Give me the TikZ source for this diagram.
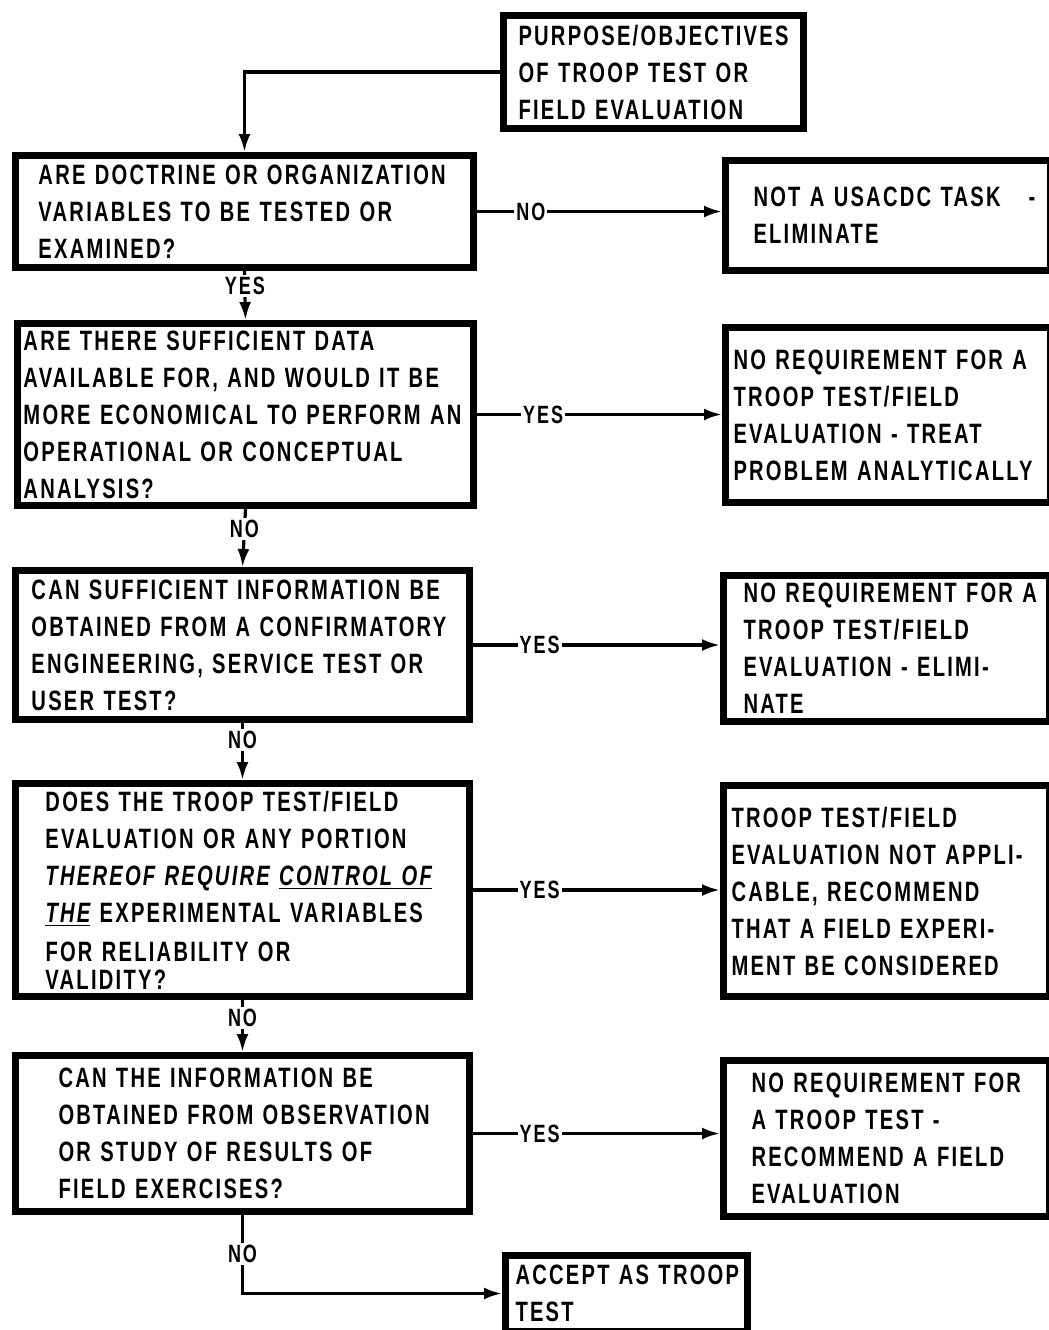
\documentclass[tikz,border=0pt]{standalone}
\usepackage{fontspec}
\usetikzlibrary{arrows.meta}
\setmainfont{Liberation Sans}[FakeStretch=0.72,LetterSpace=8]
\tikzset{
	blk/.style={draw, line width=3.5pt, rectangle, anchor=north west, inner xsep=3pt, inner ysep=2pt,
		align=left, font=\fontsize{14}{18.5}\selectfont\bfseries},
	lpad/.style={execute at begin node={\leftskip=#1\relax}},
	arr/.style={line width=1.6pt, -{Latex[length=9pt,width=6pt]}},
	lbl/.style={fill=white, inner sep=1pt, font=\fontsize{12.5}{13}\selectfont\bfseries}
}
\begin{document}
\begin{tikzpicture}[x=0.5pt, y=-0.5pt]
	\useasboundingbox (0,0) rectangle (1049,1330);
	\node[blk, lpad=4.5pt, minimum width=150pt, minimum height=56.5pt, text width=144pt] at (500,12) (purpose) {PURPOSE/OBJECTIVES\\OF TROOP TEST OR\\FIELD EVALUATION};
	\node[blk, lpad=8.5pt, minimum width=229pt, minimum height=56pt, text width=223pt] at (12,152) (q1) {ARE DOCTRINE OR ORGANIZATION\\VARIABLES TO BE TESTED OR\\EXAMINED?};
	\node[blk, lpad=11pt, minimum width=162.5pt, minimum height=55pt, text width=156.5pt] at (722,157) (r1) {NOT A USACDC TASK\quad -\\ELIMINATE};
	\node[blk, lpad=0pt, minimum width=228pt, minimum height=91pt, text width=222pt] at (14,320) (q2) {ARE THERE SUFFICIENT DATA\\AVAILABLE FOR, AND WOULD IT BE\\MORE ECONOMICAL TO PERFORM AN\\OPERATIONAL OR CONCEPTUAL\\ANALYSIS?};
	\node[blk, lpad=1pt, minimum width=162.5pt, minimum height=87.5pt, text width=156.5pt] at (722,324) (r2) {NO REQUIREMENT FOR A\\TROOP TEST/FIELD\\EVALUATION - TREAT\\PROBLEM ANALYTICALLY};
	\node[blk, lpad=5pt, minimum width=227pt, minimum height=74.5pt, text width=221pt] at (12,567) (q3) {CAN SUFFICIENT INFORMATION BE\\OBTAINED FROM A CONFIRMATORY\\ENGINEERING, SERVICE TEST OR\\USER TEST?};
	\node[blk, lpad=7pt, minimum width=163pt, minimum height=73pt, text width=157pt] at (720,572) (r3) {NO REQUIREMENT FOR A\\TROOP TEST/FIELD\\EVALUATION - ELIMI-\\NATE};
	\node[blk, lpad=12pt, minimum width=227pt, minimum height=106.5pt, text width=221pt] at (12,780) (q4) {DOES THE TROOP TEST/FIELD\\EVALUATION OR ANY PORTION\\{\itshape THEREOF REQUIRE \underline{CONTROL OF}}\\{\itshape\underline{THE}} EXPERIMENTAL VARIABLES\\[1pt]FOR RELIABILITY OR\\[-4.5pt]VALIDITY?};
	\node[blk, lpad=1pt, minimum width=163pt, minimum height=105.5pt, text width=157pt] at (720,782) (r4) {TROOP TEST/FIELD\\EVALUATION NOT APPLI-\\CABLE, RECOMMEND\\THAT A FIELD EXPERI-\\MENT BE CONSIDERED};
	\node[blk, lpad=18.5pt, minimum width=227pt, minimum height=78pt, text width=221pt] at (12,1052) (q5) {CAN THE INFORMATION BE\\OBTAINED FROM OBSERVATION\\OR STUDY OF RESULTS OF\\FIELD EXERCISES?};
	\node[blk, lpad=11pt, minimum width=163pt, minimum height=78pt, text width=157pt] at (720,1057) (r5) {NO REQUIREMENT FOR\\A TROOP TEST -\\RECOMMEND A FIELD\\EVALUATION};
	\node[blk, lpad=2pt, minimum width=121pt, minimum height=38pt, text width=115pt] at (502,1252) (accept) {ACCEPT AS TROOP\\TEST};
	% main chain
	\draw[arr] (purpose.west) -| (q1.north);
	\draw[arr] (q1.south) -- node[lbl, pos=0.3] {YES} (q2.north);
	\draw[arr] (q2.south) -- node[lbl, pos=0.35] {NO} (q3.north);
	\draw[arr] (q3.south) -- node[lbl, pos=0.3] {NO} (q4.north);
	\draw[arr] (q4.south) -- node[lbl, pos=0.35] {NO} (q5.north);
	\draw[arr] (q5.south) |- node[lbl, pos=0.25] {NO} (accept.west);
	% side exits
	\draw[arr] (q1.east) -- node[lbl, pos=0.22] {NO} (q1.east -| r1.west);
	\draw[arr] (q2.east) -- node[lbl, pos=0.27] {YES} (q2.east -| r2.west);
	\draw[arr] (q3.east) -- node[lbl, pos=0.27] {YES} (q3.east -| r3.west);
	\draw[arr] (q4.east) -- node[lbl, pos=0.27] {YES} (q4.east -| r4.west);
	\draw[arr] (q5.east) -- node[lbl, pos=0.27] {YES} (q5.east -| r5.west);
\end{tikzpicture}
\end{document}
